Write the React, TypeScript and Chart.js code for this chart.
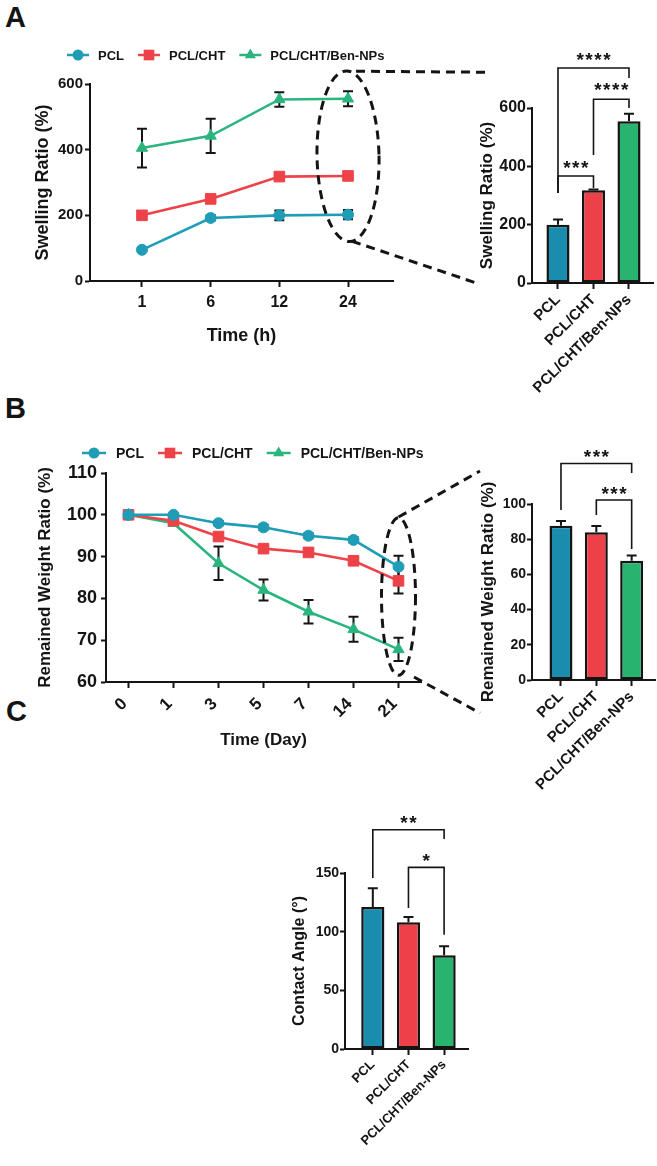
import React, { useEffect, useRef } from 'react';
import { Chart, registerables } from 'chart.js';

Chart.register(...registerables);

const FONT = '"Liberation Sans", Arial, Helvetica, sans-serif';
const INK = '#141414';
const TEAL = '#1f9db7';
const RED = '#ee4249';
const GREEN = '#2bb57e';
const BAR_TEAL = '#1a8cae';
const BAR_RED = '#ee4048';
const BAR_GREEN = '#28b46f';

// ---------------- data ----------------
const groups = ['PCL', 'PCL/CHT', 'PCL/CHT/Ben-NPs'];

// A: swelling ratio over time
const swellHours = ['1', '6', '12', '24'];
const swellPCL = [95, 192, 200, 202];
const swellPCLSd = [6, 8, 15, 14];
const swellCHT = [200, 250, 318, 320];
const swellCHTSd = [5, 5, 6, 5];
const swellBen = [405, 442, 553, 555];
const swellBenSd = [59, 52, 22, 23];
// A: 24 h bars
const swell24h = [200, 318, 555];
const swell24hSd = [18, 3, 25];

// B: remained weight over time
const days = ['0', '1', '3', '5', '7', '14', '21'];
const weightPCL = [100, 100, 98, 97, 95, 94, 87.6];
const weightPCLSd = [0.4, 0.4, 0.5, 0.6, 0.6, 0.6, 2.6];
const weightCHT = [100, 98.6, 94.8, 91.9, 91, 89, 84.2];
const weightCHTSd = [0.4, 0.6, 0.7, 0.7, 0.7, 0.7, 3];
const weightBen = [100, 98, 88.4, 82, 76.8, 72.6, 67.8];
const weightBenSd = [0.4, 0.6, 4, 2.5, 2.8, 3, 2.8];
// B: day 21 bars
const weight21d = [87.6, 84, 67.8];
const weight21dSd = [2.8, 3.5, 3];

// C: contact angle
const contactAngle = [121, 108, 80];
const contactAngleSd = [16, 4.5, 7.5];

// significance brackets (group indices, values in axis units)
const swellSig = [
  { a: 0, b: 2, text: '****', level: 737, legA: 309, legB: 703, textAt: 782 },
  { a: 1, b: 2, text: '****', level: 630, legA: 439, legB: 600, textAt: 679 },
  { a: 0, b: 1, text: '***', level: 367, legA: 309, legB: 326, textAt: 411 },
];
const weightSig = [
  { a: 0, b: 2, text: '***', level: 123, legA: 96.6, legB: 117.6, textAt: 129.7 },
  { a: 1, b: 2, text: '***', level: 102.3, legA: 93.8, legB: 74.4, textAt: 108.4 },
];
const contactSig = [
  { a: 0, b: 2, text: '**', level: 186.9, legA: 145.7, legB: 179, textAt: 197 },
  { a: 1, b: 2, text: '*', level: 154.8, legA: 120.2, legB: 97.4, textAt: 164.7 },
];

// ---------------- drawing helpers ----------------
function drawMarker(ctx: CanvasRenderingContext2D, style: string, x: number, y: number, r: number, color: string) {
  ctx.save();
  ctx.fillStyle = color;
  ctx.beginPath();
  if (style === 'circle') {
    ctx.arc(x, y, r, 0, Math.PI * 2);
  } else if (style === 'rect') {
    const s = r * Math.SQRT1_2;
    ctx.rect(x - s, y - s, 2 * s, 2 * s);
  } else {
    let rad = 0;
    ctx.moveTo(x + Math.sin(rad) * r, y - Math.cos(rad) * r);
    rad += (2 * Math.PI) / 3;
    ctx.lineTo(x + Math.sin(rad) * r, y - Math.cos(rad) * r);
    rad += (2 * Math.PI) / 3;
    ctx.lineTo(x + Math.sin(rad) * r, y - Math.cos(rad) * r);
    ctx.closePath();
  }
  ctx.fill();
  ctx.restore();
}

function drawErrors(chart: any, errors: number[][], mode: string, capHalf: number) {
  const { ctx } = chart;
  const ys = chart.scales.y;
  ctx.save();
  ctx.strokeStyle = INK;
  ctx.lineWidth = 2;
  ctx.setLineDash([]);
  chart.data.datasets.forEach((ds: any, i: number) => {
    const sd = errors[i];
    if (!sd) return;
    const meta = chart.getDatasetMeta(i);
    meta.data.forEach((el: any, j: number) => {
      const raw = ds.data[j];
      const v = typeof raw === 'number' ? raw : raw.y;
      const e = sd[j];
      const x = el.x;
      const top = ys.getPixelForValue(v + e);
      const bot = mode === 'both' ? ys.getPixelForValue(v - e) : ys.getPixelForValue(v);
      ctx.beginPath();
      ctx.moveTo(x, top);
      ctx.lineTo(x, bot);
      ctx.moveTo(x - capHalf, top);
      ctx.lineTo(x + capHalf, top);
      if (mode === 'both') {
        ctx.moveTo(x - capHalf, bot);
        ctx.lineTo(x + capHalf, bot);
      }
      ctx.stroke();
    });
  });
  ctx.restore();
}

function drawBrackets(chart: any, list: any[]) {
  const { ctx } = chart;
  const xs = chart.scales.x;
  const ys = chart.scales.y;
  ctx.save();
  ctx.strokeStyle = INK;
  ctx.fillStyle = INK;
  ctx.lineWidth = 1.6;
  ctx.font = `bold 19px ${FONT}`;
  try {
    (ctx as any).letterSpacing = '1.5px';
  } catch (e) {
    /* ignore */
  }
  ctx.textAlign = 'center';
  ctx.textBaseline = 'alphabetic';
  list.forEach((b) => {
    const xa = xs.getPixelForValue(b.a);
    const xb = xs.getPixelForValue(b.b);
    const yl = ys.getPixelForValue(b.level);
    ctx.beginPath();
    ctx.moveTo(xa, ys.getPixelForValue(b.legA));
    ctx.lineTo(xa, yl);
    ctx.lineTo(xb, yl);
    ctx.lineTo(xb, ys.getPixelForValue(b.legB));
    ctx.stroke();
    ctx.fillText(b.text, (xa + xb) / 2 + 0.75, ys.getPixelForValue(b.textAt) + 11);
  });
  ctx.restore();
}

function drawLegend(chart: any, lg: any) {
  const { ctx, chartArea } = chart;
  let x = chartArea.left + lg.dx;
  const y = chartArea.top + lg.dy;
  ctx.save();
  ctx.font = `bold ${lg.size}px ${FONT}`;
  ctx.textBaseline = 'middle';
  ctx.textAlign = 'left';
  chart.data.datasets.forEach((ds: any) => {
    ctx.strokeStyle = ds.borderColor;
    ctx.lineWidth = 2.5;
    ctx.beginPath();
    ctx.moveTo(x, y);
    ctx.lineTo(x + lg.sample, y);
    ctx.stroke();
    drawMarker(ctx, ds.pointStyle, x + lg.sample / 2, y, ds.pointRadius, ds.borderColor);
    x += lg.sample + lg.gap;
    ctx.fillStyle = INK;
    ctx.fillText(ds.label, x, y + 1);
    x += ctx.measureText(ds.label).width + lg.itemGap;
  });
  ctx.restore();
}

function drawZoom(chart: any, z: any) {
  const { ctx } = chart;
  const xs = chart.scales.x;
  const ys = chart.scales.y;
  const cx = xs.getPixelForValue(z.index);
  const yt = ys.getPixelForValue(z.top);
  const yb = ys.getPixelForValue(z.bottom);
  const cy = (yt + yb) / 2;
  const ry = (yb - yt) / 2;
  ctx.save();
  ctx.strokeStyle = INK;
  ctx.lineWidth = 3;
  ctx.setLineDash([9, 6]);
  ctx.beginPath();
  ctx.ellipse(cx, cy, z.rx, ry, z.tilt || 0, 0, Math.PI * 2);
  ctx.stroke();
  z.links.forEach((l: number[]) => {
    ctx.beginPath();
    ctx.moveTo(cx + l[0], cy + l[1]);
    ctx.lineTo(cx + l[2], cy + l[3]);
    ctx.stroke();
  });
  ctx.restore();
}

function figurePlugin(cfg: any) {
  return {
    id: 'figure',
    beforeDatasetsDraw(chart: any) {
      if (cfg.errors && cfg.errorMode === 'both') drawErrors(chart, cfg.errors, 'both', cfg.cap);
    },
    afterDatasetsDraw(chart: any) {
      if (cfg.errors && cfg.errorMode === 'up') drawErrors(chart, cfg.errors, 'up', cfg.cap);
      if (cfg.brackets) drawBrackets(chart, cfg.brackets);
    },
    afterDraw(chart: any) {
      if (cfg.legend) drawLegend(chart, cfg.legend);
      if (cfg.zoom) drawZoom(chart, cfg.zoom);
    },
  };
}

// ---------------- axis builders ----------------
const axisLine = { display: true, color: INK, width: 2 };

function yAxis(o: any) {
  return {
    type: 'linear',
    position: 'left',
    min: o.min,
    max: o.max,
    ticks: {
      stepSize: o.step,
      font: { family: FONT, size: o.tickSize, weight: 'bold' },
      color: INK,
      padding: o.tickPad,
    },
    grid: { display: true, drawOnChartArea: false, drawTicks: true, tickLength: 5, tickWidth: 2, tickColor: INK },
    border: axisLine,
    title: {
      display: true,
      text: o.title,
      color: INK,
      font: { family: FONT, size: o.titleSize, weight: 'bold' },
      padding: { top: o.titlePad, bottom: 0 },
    },
    afterFit: (s: any) => {
      s.width = o.width;
    },
  };
}

function indexAxis(o: any) {
  const ax: any = {
    position: 'bottom',
    ticks: {
      font: { family: FONT, size: o.tickSize, weight: 'bold' },
      color: INK,
      padding: o.tickPad,
      autoSkip: false,
      minRotation: o.rotation,
      maxRotation: o.rotation,
      labelOffset: o.labelOffset || 0,
    },
    grid: { display: true, offset: false, drawOnChartArea: false, drawTicks: true, tickLength: 6, tickWidth: 2, tickColor: INK },
    border: axisLine,
    afterFit: (s: any) => {
      s.height = o.height;
    },
  };
  if (o.title) {
    ax.title = {
      display: true,
      text: o.title,
      color: INK,
      font: { family: FONT, size: o.titleSize, weight: 'bold' },
      padding: { top: 0, bottom: o.titlePad },
    };
  }
  if (o.labels && o.linear) {
    const labels = o.labels;
    ax.type = 'linear';
    ax.offset = false;
    ax.min = o.min;
    ax.max = o.max;
    ax.afterBuildTicks = (s: any) => {
      s.ticks = labels.map((_: string, i: number) => ({ value: i }));
    };
    ax.ticks.callback = (v: any) => labels[Math.round(Number(v))] ?? '';
  } else {
    ax.type = 'category';
    ax.offset = true;
  }
  return ax;
}

const markerRadius: Record<string, number> = { circle: 5.5, rect: 7.5, triangle: 6.5 };

function lineDataset(label: string, values: number[], color: string, marker: string, asXY: boolean) {
  return {
    label,
    data: asXY ? values.map((y, i) => ({ x: i, y })) : values,
    borderColor: color,
    backgroundColor: color,
    pointBackgroundColor: color,
    pointBorderColor: color,
    pointStyle: marker,
    pointRadius: markerRadius[marker],
    pointHoverRadius: markerRadius[marker],
    pointBorderWidth: 1,
    borderWidth: 2.6,
    tension: 0,
    clip: false,
  };
}

function barDataset(values: number[]) {
  return {
    data: values.map((y, i) => ({ x: i, y })),
    backgroundColor: [BAR_TEAL, BAR_RED, BAR_GREEN],
    borderColor: INK,
    borderWidth: 2.5,
    borderSkipped: false,
    barPercentage: 0.65,
    categoryPercentage: 1,
  };
}

const baseOptions = (padding: any) => ({
  responsive: false,
  maintainAspectRatio: false,
  animation: false,
  events: [],
  layout: { padding },
  plugins: { legend: { display: false }, tooltip: { enabled: false }, title: { display: false } },
});

// ---------------- chart specs ----------------
const specs: any[] = [
  // A: line chart
  {
    left: 0, top: 30, width: 500, height: 320,
    config: {
      type: 'line',
      data: {
        datasets: [
          lineDataset(groups[0], swellPCL, TEAL, 'circle', true),
          lineDataset(groups[1], swellCHT, RED, 'rect', true),
          lineDataset(groups[2], swellBen, GREEN, 'triangle', true),
        ],
      },
      options: {
        ...baseOptions({ top: 54, right: 107, left: 0, bottom: 0 }),
        scales: {
          x: indexAxis({ labels: swellHours, linear: true, min: -0.757, max: 3.655, tickSize: 16, tickPad: 6, rotation: 0, height: 69, title: 'Time (h)', titleSize: 18, titlePad: 3.2 }),
          y: yAxis({ min: 0, max: 600, step: 200, tickSize: 15, tickPad: 2, width: 90, title: 'Swelling Ratio (%)', titleSize: 18, titlePad: 32.2 }),
        },
      },
      plugins: [
        figurePlugin({
          errors: [swellPCLSd, swellCHTSd, swellBenSd], errorMode: 'both', cap: 5,
          legend: { dx: -23, dy: -29, size: 13, sample: 22, gap: 9, itemGap: 14 },
          zoom: { index: 3, top: 640, bottom: 120, rx: 31, tilt: -0.02, links: [[8, -85, 137, -84], [4, 85, 129, 127]] },
        }),
      ],
    },
  },
  // A: bar chart
  {
    left: 470, top: 40, width: 187, height: 360,
    config: {
      type: 'bar',
      data: { datasets: [barDataset(swell24h)] },
      options: {
        ...baseOptions({ top: 68, right: 4, left: 0, bottom: 0 }),
        scales: {
          x: indexAxis({ labels: groups, linear: true, min: -0.732, max: 2.676, tickSize: 15, tickPad: 2, rotation: 45, height: 117 }),
          y: yAxis({ min: 0, max: 600, step: 200, tickSize: 16, tickPad: 1, width: 62, title: 'Swelling Ratio (%)', titleSize: 17, titlePad: 6.8 }),
        },
      },
      plugins: [figurePlugin({ errors: [swell24hSd], errorMode: 'up', cap: 5, brackets: swellSig })],
    },
  },
  // B: line chart
  {
    left: 0, top: 420, width: 540, height: 340,
    config: {
      type: 'line',
      data: {
        labels: days,
        datasets: [
          lineDataset(groups[0], weightPCL, TEAL, 'circle', false),
          lineDataset(groups[1], weightCHT, RED, 'rect', false),
          lineDataset(groups[2], weightBen, GREEN, 'triangle', false),
        ],
      },
      options: {
        ...baseOptions({ top: 53, right: 119, left: 0, bottom: 0 }),
        scales: {
          x: indexAxis({ tickSize: 17, tickPad: 6, rotation: 45, labelOffset: -4, height: 78, title: 'Time (Day)', titleSize: 17, titlePad: 9.8 }),
          y: yAxis({ min: 60, max: 110, step: 10, tickSize: 18, tickPad: 4, width: 106, title: 'Remained Weight Ratio (%)', titleSize: 17, titlePad: 34.8 }),
        },
      },
      plugins: [
        figurePlugin({
          errors: [weightPCLSd, weightCHTSd, weightBenSd], errorMode: 'both', cap: 5,
          legend: { dx: -24, dy: -20, size: 14, sample: 24, gap: 10, itemGap: 14 },
          zoom: { index: 6, top: 99.3, bottom: 61.6, rx: 17, tilt: 0, links: [[0, -79.5, 81.5, -125.5], [15.5, 80.5, 81.5, 116.5]] },
        }),
      ],
    },
  },
  // B: bar chart
  {
    left: 470, top: 430, width: 187, height: 370,
    config: {
      type: 'bar',
      data: { datasets: [barDataset(weight21d)] },
      options: {
        ...baseOptions({ top: 74, right: 2, left: 0, bottom: 0 }),
        scales: {
          x: indexAxis({ labels: groups, linear: true, min: -0.82, max: 2.66, tickSize: 15, tickPad: 2, rotation: 45, height: 120 }),
          y: yAxis({ min: 0, max: 100, step: 20, tickSize: 14, tickPad: 1, width: 62, title: 'Remained Weight Ratio (%)', titleSize: 17, titlePad: 7.8 }),
        },
      },
      plugins: [figurePlugin({ errors: [weight21dSd], errorMode: 'up', cap: 5, brackets: weightSig })],
    },
  },
  // C: bar chart
  {
    left: 270, top: 800, width: 210, height: 366,
    config: {
      type: 'bar',
      data: { datasets: [barDataset(contactAngle)] },
      options: {
        ...baseOptions({ top: 73, right: 12, left: 0, bottom: 0 }),
        scales: {
          x: indexAxis({ labels: groups, linear: true, min: -0.78, max: 2.67, tickSize: 13, tickPad: 2, rotation: 45, height: 117 }),
          y: yAxis({ min: 0, max: 150, step: 50, tickSize: 14, tickPad: 1, width: 75, title: 'Contact Angle (°)', titleSize: 16, titlePad: 20.4 }),
        },
      },
      plugins: [figurePlugin({ errors: [contactAngleSd], errorMode: 'up', cap: 5, brackets: contactSig })],
    },
  },
];

function ChartBox({ spec }: { spec: any }) {
  const ref = useRef<HTMLCanvasElement>(null);
  useEffect(() => {
    const chart = new Chart(ref.current as HTMLCanvasElement, spec.config);
    return () => chart.destroy();
  }, [spec]);
  return (
    <canvas
      ref={ref}
      width={spec.width}
      height={spec.height}
      style={{ position: 'absolute', left: spec.left, top: spec.top, width: spec.width, height: spec.height }}
    />
  );
}

const panelLetters = [
  { text: 'A', left: 5, top: 3 },
  { text: 'B', left: 5, top: 394 },
  { text: 'C', left: 6, top: 697 },
];

export default function App() {
  return (
    <div style={{ position: 'absolute', left: 0, top: 0, width: 657, height: 1166, background: '#fff', overflow: 'hidden' }}>
      {panelLetters.map((p) => (
        <div
          key={p.text}
          style={{ position: 'absolute', left: p.left, top: p.top, fontFamily: FONT, fontWeight: 'bold', fontSize: 29, lineHeight: '29px', color: INK }}
        >
          {p.text}
        </div>
      ))}
      {specs.map((s, i) => (
        <ChartBox key={i} spec={s} />
      ))}
    </div>
  );
}
